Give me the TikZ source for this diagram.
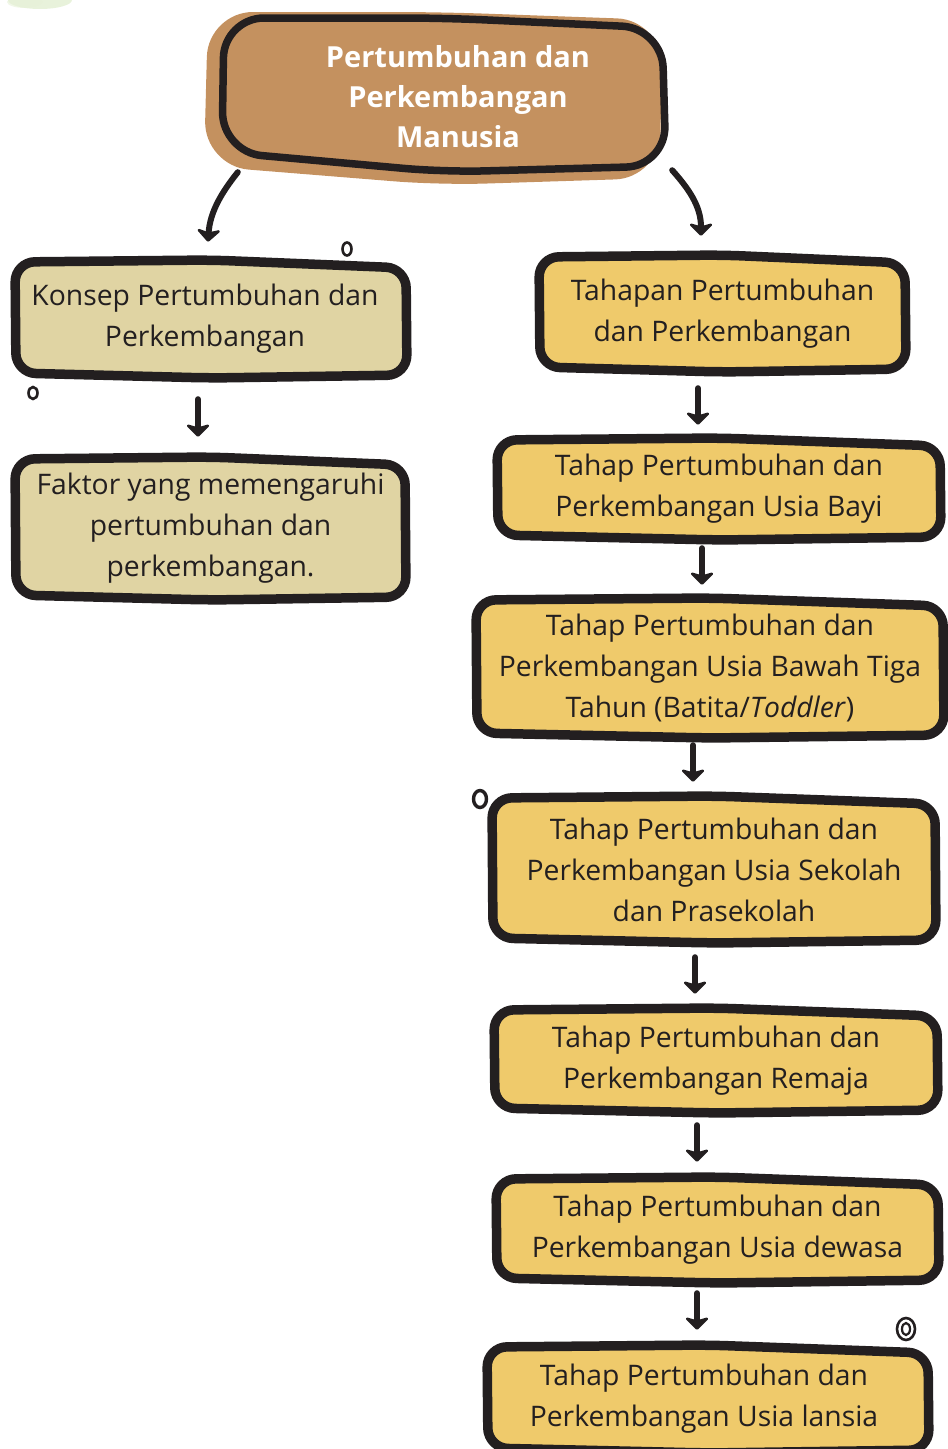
\documentclass[tikz,border=0pt]{standalone}
\usepackage{fontspec}
\setmainfont{Open Sans}
\usetikzlibrary{arrows.meta}

\definecolor{ink}{HTML}{231F20}
\definecolor{clay}{HTML}{C4915F}
\definecolor{sand}{HTML}{E0D4A3}
\definecolor{honey}{HTML}{EFCA6B}
\definecolor{leaf}{HTML}{D6E8BE}

\tikzset{
  outline/.style={line width=9.5pt, draw=ink, rounded corners=20pt, line join=round},
  boxtext/.style={inner sep=0pt, align=center, text=ink,
    font=\fontsize{28.3}{41}\selectfont},
  titletext/.style={inner sep=0pt, text=white,
    font=\fontsize{29}{40}\selectfont\bfseries},
  arr/.style={line width=6pt, draw=ink, line cap=round,
    -{Stealth[round, length=14pt, width=28pt, inset=4pt]}},
  dot/.style={line width=2.6pt, draw=ink},
}

% hand-drawn box: name, fill, x1, y1, x2, y2, text
\newcommand\sketchnode[7]{%
  \draw[outline, fill=#2]
    ({(#3+#5)/2}, #4) -- (#5, #4+8) -- (#5+1, #6-3) -- ({(#3+#5)/2}, #6)
    -- (#3, #6-5) -- (#3-1, #4+2) -- cycle;
  \node[boxtext, minimum width={#5-#3}, minimum height={#6-#4}] (#1)
    at ({(#3+#5)/2}, {(#4+#6)/2}) {#7};
}

\begin{document}
\begin{tikzpicture}[x=1pt, y=-1pt]
\useasboundingbox (0,0) rectangle (948,1449);

% faint leaf wash in the corner
\fill[leaf, opacity=0.55] (40,0) ellipse [x radius=32pt, y radius=9pt];
\fill[leaf!60!white, opacity=0.6] (25,2) ellipse [x radius=18pt, y radius=6pt];

% title blob: clay underlay, then its outline
\fill[clay, rounded corners=45pt]
  (440,12) -- (662,20) -- (660,178) -- (440,185) -- (204,166) -- (208,12) -- cycle;
\draw[line width=7.5pt, draw=ink, rounded corners=40pt, line join=round]
  (444,18) -- (662,28) -- (666,166) -- (444,172) -- (222,152) -- (224,18) -- cycle;
\node[titletext, minimum width=436, minimum height=152] (top) at (444,99)
  {\hspace*{28pt}\begin{tabular}{@{}c@{}}Pertumbuhan dan\\Perkembangan\\Manusia\end{tabular}};

% left column
\sketchnode{konsep}{sand}{16}{260}{406}{378}{\hspace*{-12pt}Konsep Pertumbuhan dan\\\hspace*{-12pt}Perkembangan}
\sketchnode{faktor}{sand}{16}{457}{405}{600}{Faktor yang memengaruhi\\pertumbuhan dan\\perkembangan.}

% right column
\sketchnode{tahapan}{honey}{540}{255}{905}{372}{Tahapan Pertumbuhan\\dan Perkembangan}
\sketchnode{bayi}{honey}{498}{438}{940}{540}{Tahap Pertumbuhan dan\\Perkembangan Usia Bayi}
\sketchnode{batita}{honey}{477}{598}{943}{738}{Tahap Pertumbuhan dan\\Perkembangan Usia Bawah Tiga\\Tahun (Batita/\textit{Toddler})}
\sketchnode{sekolah}{honey}{493}{796}{935}{943}{Tahap Pertumbuhan dan\\Perkembangan Usia Sekolah\\dan Prasekolah}
\sketchnode{remaja}{honey}{495}{1008}{937}{1113}{Tahap Pertumbuhan dan\\Perkembangan Remaja}
\sketchnode{dewasa}{honey}{497}{1177}{938}{1283}{Tahap Pertumbuhan dan\\Perkembangan Usia dewasa}
\sketchnode{lansia}{honey}{488}{1345}{928}{1453}{\hspace*{-8pt}Tahap Pertumbuhan dan\\\hspace*{-8pt}Perkembangan Usia lansia}

% connectors
\draw[arr] ([shift={(12,-3)}]top.south west)
  .. controls +(-16,20) and +(2,-30) .. ([shift={(-3,-18)}]konsep.north);
\draw[arr] ([shift={(10,-5)}]top.south east)
  .. controls +(16,18) and +(0,-30) .. ([shift={(-21.5,-19)}]tahapan.north);
\draw[arr] ([shift={(-13,21)}]konsep.south) -- ([shift={(-12.5,-20)}]faktor.north);
\draw[arr] ([shift={(-24.5,16)}]tahapan.south) -- ([shift={(-21,-13)}]bayi.north);
\draw[arr] ([shift={(-17,8)}]bayi.south) -- ([shift={(-8,-13)}]batita.north);
\draw[arr] ([shift={(-17,7)}]batita.south) -- ([shift={(-21,-14)}]sekolah.north);
\draw[arr] ([shift={(-19,14)}]sekolah.south) -- ([shift={(-21,-14)}]remaja.north);
\draw[arr] ([shift={(-19,12)}]remaja.south) -- ([shift={(-20.5,-15)}]dewasa.north);
\draw[arr] ([shift={(-20.5,10)}]dewasa.south) -- ([shift={(-11,-15)}]lansia.north);

% little doodle rings
\draw[dot] (347,249) ellipse [x radius=4.5pt, y radius=6.5pt];
\draw[dot] (33,393) ellipse [x radius=4.5pt, y radius=6pt];
\draw[dot, line width=3.4pt] (480,799) ellipse [x radius=6.5pt, y radius=8.5pt];
\draw[dot] (906,1329) ellipse [x radius=9pt, y radius=11pt];
\draw[dot, line width=2.2pt] (906,1329) ellipse [x radius=4pt, y radius=6pt];
\end{tikzpicture}
\end{document}
